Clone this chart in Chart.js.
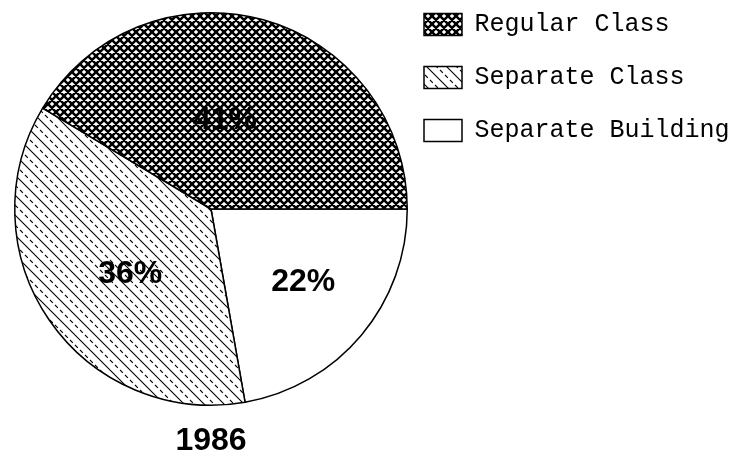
<!DOCTYPE html>
<html><head><meta charset="utf-8">
<script src="https://cdn.jsdelivr.net/npm/chart.js@4/dist/chart.umd.min.js"></script>
<style>html,body{margin:0;padding:0;background:#fff;} canvas{display:block;}</style>
</head><body>
<canvas id="c" width="736" height="457"></canvas>
<script>
// ---- data ----
const categories = ['Separate Building', 'Separate Class', 'Regular Class'];
const percentValues = [22, 36, 41];
const yearLabel = '1986';

// ---- styles ----
const canvas = document.getElementById('c');
const mainCtx = canvas.getContext('2d');

function makeCrossHatch() {
  const s = 8, t = document.createElement('canvas');
  t.width = s; t.height = s;
  const g = t.getContext('2d');
  g.fillStyle = '#fff'; g.fillRect(0, 0, s, s);
  g.strokeStyle = '#000'; g.lineWidth = 2.5;
  g.beginPath();
  for (const k of [-s, 0, s]) {
    g.moveTo(-2 + k, -2); g.lineTo(s + 2 + k, s + 2);
    g.moveTo(s + 2 + k, -2); g.lineTo(-2 + k, s + 2);
  }
  g.stroke();
  return mainCtx.createPattern(t, 'repeat');
}

function makeDiagHatch() {
  const s = 20, t = document.createElement('canvas');
  t.width = s; t.height = s;
  const g = t.getContext('2d');
  g.fillStyle = '#fff'; g.fillRect(0, 0, s, s);
  g.strokeStyle = '#000'; g.lineWidth = 1.1;
  g.beginPath();
  for (const c of [-20, 0, 20]) { g.moveTo(-c - 5, -5); g.lineTo(-c + 25, 25); }
  g.stroke();
  g.setLineDash([4.04, 3.03]);
  for (const c of [-30, -10, 10, 30]) {
    g.beginPath(); g.moveTo(-c, 0); g.lineTo(-c + 40, 40); g.stroke();
  }
  return mainCtx.createPattern(t, 'repeat');
}

const fills = ['#ffffff', makeDiagHatch(), makeCrossHatch()];
const labelRadius = [0.6, 0.53, 0.46];
const labelAngleShift = [-1.5, -4.5, -6.5];

const sliceLabels = {
  id: 'sliceLabels',
  afterDatasetsDraw(chart) {
    const ctx = chart.ctx;
    const meta = chart.getDatasetMeta(0);
    ctx.save();
    ctx.font = 'bold 32px "Liberation Sans", Arial, sans-serif';
    ctx.fillStyle = '#000';
    ctx.textAlign = 'center';
    ctx.textBaseline = 'middle';
    meta.data.forEach((arc, i) => {
      const p = arc.getProps(['x', 'y', 'startAngle', 'endAngle', 'outerRadius'], true);
      const mid = (p.startAngle + p.endAngle) / 2 + labelAngleShift[i] * Math.PI / 180;
      const r = p.outerRadius * labelRadius[i];
      ctx.fillText(percentValues[i] + '%', p.x + Math.cos(mid) * r, p.y + Math.sin(mid) * r);
    });
    ctx.restore();
  }
};

const legendPlace = {
  id: 'legendPlace',
  afterLayout(chart) {
    const lg = chart.legend;
    const h = lg.height;
    lg.left = chart.chartArea.right - 13;
    lg.right = chart.width;
    lg.width = lg.right - lg.left;
    lg.top = -16;
    lg.bottom = lg.top + h;
  }
};

new Chart(canvas, {
  type: 'pie',
  data: {
    labels: categories,
    datasets: [{
      data: percentValues,
      backgroundColor: fills,
      borderColor: '#000',
      borderWidth: 1.5,
      hoverOffset: 0
    }]
  },
  options: {
    responsive: false,
    devicePixelRatio: 1,
    animation: false,
    rotation: 90,
    layout: { padding: { left: 13, top: 12, right: 0, bottom: 0 } },
    plugins: {
      tooltip: { enabled: false },
      legend: {
        position: 'right',
        align: 'start',
        reverse: true,
        maxWidth: 327,
        labels: {
          boxWidth: 38,
          boxHeight: 22,
          padding: 28,
          color: '#000',
          font: { family: "'Liberation Mono', monospace", size: 25 }
        }
      },
      title: {
        display: true,
        text: yearLabel,
        position: 'bottom',
        fullSize: false,
        color: '#000',
        font: { family: "'Liberation Sans', Arial, sans-serif", size: 32, weight: 'bold', lineHeight: 1 },
        padding: { top: 19, bottom: 0 }
      }
    }
  },
  plugins: [sliceLabels, legendPlace]
});
</script>
</body></html>
